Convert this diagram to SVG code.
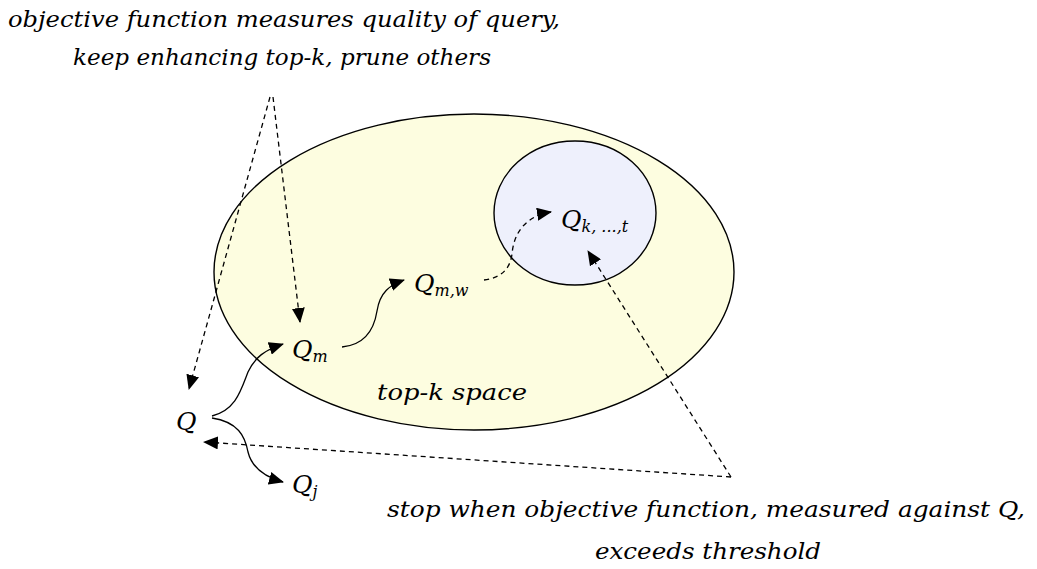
<svg xmlns="http://www.w3.org/2000/svg" width="1037" height="569" viewBox="0 0 1037 569">
<defs>
<marker id="ah" viewBox="0 0 15 13" markerWidth="15" markerHeight="13" refX="14" refY="6.5" orient="auto" markerUnits="userSpaceOnUse">
<path d="M0,0 L15,6.5 L0,13 z" fill="#000"/>
</marker>
<style>
.t{font-family:"DejaVu Serif","Liberation Serif",serif;font-style:italic;fill:#000}
.note{font-size:22px}
.q{font-size:25px}
.sub{font-size:16px}
.c{fill:none;stroke:#000;stroke-width:1.3}
.d{stroke-dasharray:5 4}
</style>
</defs>
<rect width="1037" height="569" fill="#fff"/>
<g id="topk-space">
<ellipse cx="474" cy="272" rx="260" ry="158" fill="#fdfde0" stroke="#000" stroke-width="1.4"/>
<text class="t" x="377" y="400" font-size="22" textLength="150" lengthAdjust="spacingAndGlyphs">top-k space</text>
</g>
<g id="inner-space">
<ellipse cx="575" cy="213" rx="81" ry="72" fill="#eef0fc" stroke="#000" stroke-width="1.4"/>
</g>
<g id="note-top">
<text class="t note" x="284" y="27" text-anchor="middle" textLength="552" lengthAdjust="spacingAndGlyphs">objective function measures quality of query,</text>
<text class="t note" x="282" y="65" text-anchor="middle" textLength="418" lengthAdjust="spacingAndGlyphs">keep enhancing top-k, prune others</text>
</g>
<g id="note-bottom">
<text class="t note" x="706" y="517" text-anchor="middle" textLength="638" lengthAdjust="spacingAndGlyphs">stop when objective function, measured against Q,</text>
<text class="t note" x="708" y="559" text-anchor="middle" textLength="226" lengthAdjust="spacingAndGlyphs">exceeds threshold</text>
</g>
<g id="node-q"><text class="t q" x="176" y="430">Q</text></g>
<g id="node-qm"><text class="t q" x="292" y="358">Q<tspan class="sub" dy="4">m</tspan></text></g>
<g id="node-qmw"><text class="t q" x="414" y="292">Q<tspan class="sub" dy="4">m,w</tspan></text></g>
<g id="node-qkt"><text class="t q" x="561" y="228">Q<tspan class="sub" dy="4">k, ...,t</tspan></text></g>
<g id="node-qj"><text class="t q" x="292" y="493">Q<tspan class="sub" dy="4">j</tspan></text></g>
<g id="connectors">
<path class="c d" d="M270,97 L189,389" marker-end="url(#ah)"/>
<path class="c d" d="M273,97 L300,322" marker-end="url(#ah)"/>
<path class="c" d="M212,416 C236,410 241,390 248,372 C255,357 265,350 283,344" marker-end="url(#ah)"/>
<path class="c" d="M212,418 C238,422 245,436 248,452 C252,468 265,477 283,482" marker-end="url(#ah)"/>
<path class="c" d="M342,347 C364,345 374,330 377,311 C380,292 390,285 404,280" marker-end="url(#ah)"/>
<path class="c d" d="M484,280 C500,278 510,270 512,254 C514,232 526,216 551,212" marker-end="url(#ah)"/>
<path class="c d" d="M731,477 L588,251" marker-end="url(#ah)"/>
<path class="c d" d="M731,477 L204,442" marker-end="url(#ah)"/>
</g>
</svg>
